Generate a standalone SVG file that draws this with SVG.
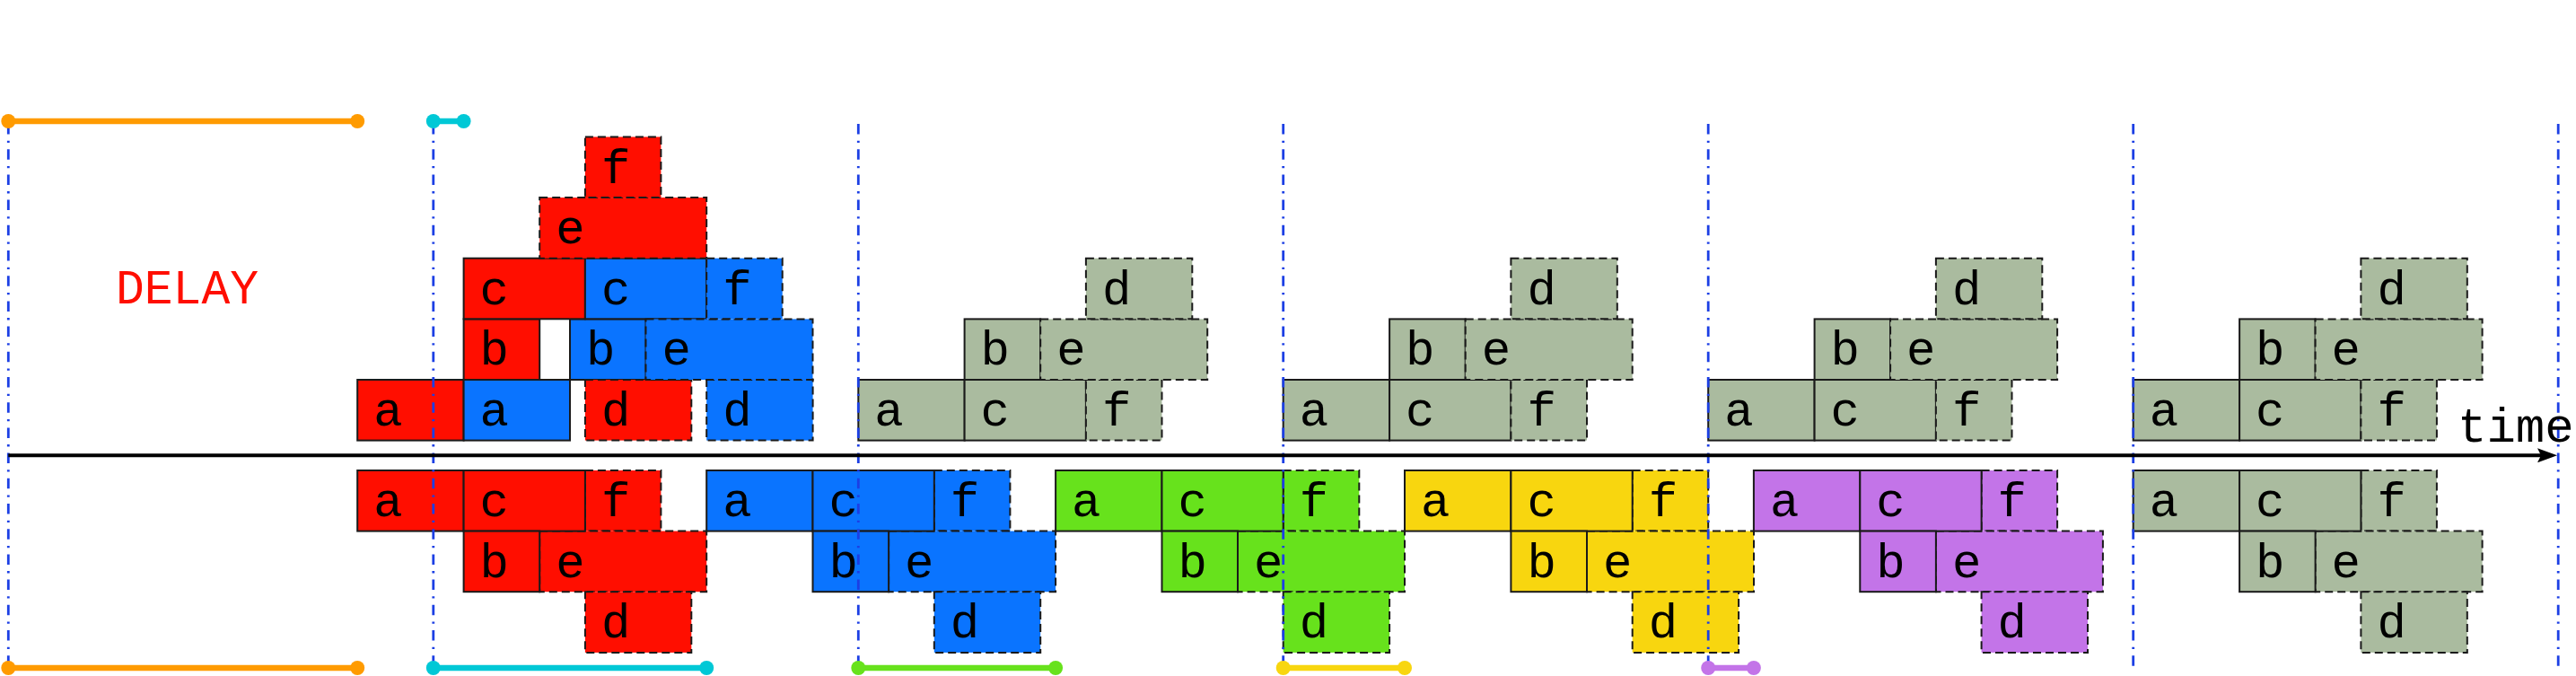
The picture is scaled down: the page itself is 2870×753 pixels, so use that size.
<svg xmlns="http://www.w3.org/2000/svg" width="2870" height="753" viewBox="0 0 2870 753">
<style>
.s{stroke:#1a1a1a;stroke-width:2}
.d{stroke:#1a1a1a;stroke-width:2;stroke-dasharray:9 5}
.r{fill:#ff0e00}.bl{fill:#0a74ff}.g{fill:#67e21c}.y{fill:#f8d60f}.p{fill:#c374e8}.gr{fill:#aabb9f}
.t{font-family:"Liberation Mono","DejaVu Sans Mono",monospace;font-size:54px;fill:#000}
.vl{stroke:#1c3fe4;stroke-width:2.8;stroke-dasharray:11.5 7.2 2.3 7.2;fill:none}
.bar{stroke-width:6.5;fill:none}
.or{stroke:#ff9b00}.cy{stroke:#00c8d6}.gb{stroke:#67e21c}.yb{stroke:#f8d60f}.pb{stroke:#c374e8}
.dor{fill:#ff9b00}.dcy{fill:#00c8d6}.dg{fill:#67e21c}.dy{fill:#f8d60f}.dp{fill:#c374e8}
</style>
<defs>
<marker id="arr" viewBox="0 0 22 16" markerWidth="22" markerHeight="16" refX="11" refY="8" orient="auto" markerUnits="userSpaceOnUse">
<path d="M0,0 L22,8 L0,16 L4,8 Z" fill="#000"/>
</marker>
</defs>
<rect width="2870" height="753" fill="#fff"/>

<text id="delay" x="129" y="338" style="font-family:'Liberation Mono','DejaVu Sans Mono',monospace;font-size:53px;fill:#ff0e00">DELAY</text>

<!-- top: red/blue -->
<g id="top-red-a"><rect class="r s" x="398.2" y="423" width="118.4" height="67.6"/><text class="t" x="416.2" y="474">a</text></g>
<g id="top-blue-a"><rect class="bl s" x="516.6" y="423" width="118.4" height="67.6"/><text class="t" x="534.6" y="474">a</text></g>
<g id="top-red-b"><rect class="r s" x="516.6" y="355.4" width="84.6" height="67.6"/><text class="t" x="534.6" y="406.4">b</text></g>
<g id="top-blue-b"><rect class="bl s" x="635" y="355.4" width="84.5" height="67.6"/><text class="t" x="653" y="406.4">b</text></g>
<g id="top-red-c"><rect class="r s" x="516.6" y="287.7" width="135.3" height="67.6"/><text class="t" x="534.6" y="338.7">c</text></g>
<g id="top-blue-c"><rect class="bl s" x="651.9" y="287.7" width="135.3" height="67.6"/><text class="t" x="669.9" y="338.7">c</text></g>
<g id="top-red-e"><rect class="r d" x="601.2" y="220.1" width="186" height="67.6"/><text class="t" x="619.2" y="271.1">e</text></g>
<g id="top-red-f"><rect class="r d" x="651.9" y="152.5" width="84.5" height="67.6"/><text class="t" x="669.9" y="203.5">f</text></g>
<g id="top-red-d"><rect class="r d" x="651.9" y="423" width="118.4" height="67.6"/><text class="t" x="669.9" y="474">d</text></g>
<g id="top-blue-d"><rect class="bl d" x="787.2" y="423" width="118.4" height="67.6"/><text class="t" x="805.2" y="474">d</text></g>
<g id="top-blue-e"><rect class="bl d" x="719.5" y="355.4" width="186" height="67.6"/><text class="t" x="737.5" y="406.4">e</text></g>
<g id="top-blue-f"><rect class="bl d" x="787.2" y="287.7" width="84.5" height="67.6"/><text class="t" x="805.2" y="338.7">f</text></g>

<!-- top gray blocks -->
<g id="top-gray1-a"><rect class="gr s" x="956.3" y="423" width="118.4" height="67.6"/><text class="t" x="974.3" y="474">a</text></g>
<g id="top-gray1-c"><rect class="gr s" x="1074.6" y="423" width="135.3" height="67.6"/><text class="t" x="1092.6" y="474">c</text></g>
<g id="top-gray1-b"><rect class="gr s" x="1074.6" y="355.4" width="84.6" height="67.6"/><text class="t" x="1092.6" y="406.4">b</text></g>
<g id="top-gray1-f"><rect class="gr d" x="1209.9" y="423" width="84.6" height="67.6"/><text class="t" x="1227.9" y="474">f</text></g>
<g id="top-gray1-e"><rect class="gr d" x="1159.2" y="355.4" width="186" height="67.6"/><text class="t" x="1177.2" y="406.4">e</text></g>
<g id="top-gray1-d"><rect class="gr d" x="1209.9" y="287.7" width="118.4" height="67.6"/><text class="t" x="1227.9" y="338.7">d</text></g>

<g id="top-gray2-a"><rect class="gr s" x="1429.7" y="423" width="118.4" height="67.6"/><text class="t" x="1447.7" y="474">a</text></g>
<g id="top-gray2-c"><rect class="gr s" x="1548.1" y="423" width="135.3" height="67.6"/><text class="t" x="1566.1" y="474">c</text></g>
<g id="top-gray2-b"><rect class="gr s" x="1548.1" y="355.4" width="84.6" height="67.6"/><text class="t" x="1566.1" y="406.4">b</text></g>
<g id="top-gray2-f"><rect class="gr d" x="1683.4" y="423" width="84.6" height="67.6"/><text class="t" x="1701.4" y="474">f</text></g>
<g id="top-gray2-e"><rect class="gr d" x="1632.7" y="355.4" width="186" height="67.6"/><text class="t" x="1650.7" y="406.4">e</text></g>
<g id="top-gray2-d"><rect class="gr d" x="1683.4" y="287.7" width="118.4" height="67.6"/><text class="t" x="1701.4" y="338.7">d</text></g>

<g id="top-gray3-a"><rect class="gr s" x="1903.2" y="423" width="118.4" height="67.6"/><text class="t" x="1921.2" y="474">a</text></g>
<g id="top-gray3-c"><rect class="gr s" x="2021.6" y="423" width="135.3" height="67.6"/><text class="t" x="2039.6" y="474">c</text></g>
<g id="top-gray3-b"><rect class="gr s" x="2021.6" y="355.4" width="84.5" height="67.6"/><text class="t" x="2039.6" y="406.4">b</text></g>
<g id="top-gray3-f"><rect class="gr d" x="2156.9" y="423" width="84.6" height="67.6"/><text class="t" x="2174.9" y="474">f</text></g>
<g id="top-gray3-e"><rect class="gr d" x="2106.1" y="355.4" width="186" height="67.6"/><text class="t" x="2124.1" y="406.4">e</text></g>
<g id="top-gray3-d"><rect class="gr d" x="2156.9" y="287.7" width="118.4" height="67.6"/><text class="t" x="2174.9" y="338.7">d</text></g>

<g id="top-gray4-a"><rect class="gr s" x="2376.7" y="423" width="118.4" height="67.6"/><text class="t" x="2394.7" y="474">a</text></g>
<g id="top-gray4-c"><rect class="gr s" x="2495.1" y="423" width="135.3" height="67.6"/><text class="t" x="2513.1" y="474">c</text></g>
<g id="top-gray4-b"><rect class="gr s" x="2495.1" y="355.4" width="84.5" height="67.6"/><text class="t" x="2513.1" y="406.4">b</text></g>
<g id="top-gray4-f"><rect class="gr d" x="2630.4" y="423" width="84.5" height="67.6"/><text class="t" x="2648.4" y="474">f</text></g>
<g id="top-gray4-e"><rect class="gr d" x="2579.6" y="355.4" width="186" height="67.6"/><text class="t" x="2597.6" y="406.4">e</text></g>
<g id="top-gray4-d"><rect class="gr d" x="2630.4" y="287.7" width="118.4" height="67.6"/><text class="t" x="2648.4" y="338.7">d</text></g>

<!-- bottom blocks -->
<g id="low-red-f"><rect class="r d" x="651.9" y="524" width="84.5" height="67.6"/><text class="t" x="669.9" y="575">f</text></g>
<g id="low-red-e"><rect class="r d" x="601.2" y="591.6" width="186" height="67.6"/><text class="t" x="619.2" y="642.6">e</text></g>
<g id="low-red-d"><rect class="r d" x="651.9" y="659.3" width="118.4" height="67.6"/><text class="t" x="669.9" y="710.3">d</text></g>
<g id="low-red-a"><rect class="r s" x="398.2" y="524" width="118.4" height="67.6"/><text class="t" x="416.2" y="575">a</text></g>
<g id="low-red-c"><rect class="r s" x="516.6" y="524" width="135.3" height="67.6"/><text class="t" x="534.6" y="575">c</text></g>
<g id="low-red-b"><rect class="r s" x="516.6" y="591.6" width="84.6" height="67.6"/><text class="t" x="534.6" y="642.6">b</text></g>

<g id="low-blue-f"><rect class="bl d" x="1040.8" y="524" width="84.6" height="67.6"/><text class="t" x="1058.8" y="575">f</text></g>
<g id="low-blue-e"><rect class="bl d" x="990.1" y="591.6" width="186" height="67.6"/><text class="t" x="1008.1" y="642.6">e</text></g>
<g id="low-blue-d"><rect class="bl d" x="1040.8" y="659.3" width="118.4" height="67.6"/><text class="t" x="1058.8" y="710.3">d</text></g>
<g id="low-blue-a"><rect class="bl s" x="787.2" y="524" width="118.3" height="67.6"/><text class="t" x="805.2" y="575">a</text></g>
<g id="low-blue-c"><rect class="bl s" x="905.5" y="524" width="135.3" height="67.6"/><text class="t" x="923.5" y="575">c</text></g>
<g id="low-blue-b"><rect class="bl s" x="905.5" y="591.6" width="84.6" height="67.6"/><text class="t" x="923.5" y="642.6">b</text></g>

<g id="low-green-f"><rect class="g d" x="1429.7" y="524" width="84.6" height="67.6"/><text class="t" x="1447.7" y="575">f</text></g>
<g id="low-green-e"><rect class="g d" x="1379" y="591.6" width="186" height="67.6"/><text class="t" x="1397" y="642.6">e</text></g>
<g id="low-green-d"><rect class="g d" x="1429.7" y="659.3" width="118.4" height="67.6"/><text class="t" x="1447.7" y="710.3">d</text></g>
<g id="low-green-a"><rect class="g s" x="1176.1" y="524" width="118.4" height="67.6"/><text class="t" x="1194.1" y="575">a</text></g>
<g id="low-green-c"><rect class="g s" x="1294.5" y="524" width="135.2" height="67.6"/><text class="t" x="1312.5" y="575">c</text></g>
<g id="low-green-b"><rect class="g s" x="1294.5" y="591.6" width="84.5" height="67.6"/><text class="t" x="1312.5" y="642.6">b</text></g>

<g id="low-yellow-f"><rect class="y d" x="1818.7" y="524" width="84.5" height="67.6"/><text class="t" x="1836.7" y="575">f</text></g>
<g id="low-yellow-e"><rect class="y d" x="1768" y="591.6" width="186" height="67.6"/><text class="t" x="1786" y="642.6">e</text></g>
<g id="low-yellow-d"><rect class="y d" x="1818.7" y="659.3" width="118.4" height="67.6"/><text class="t" x="1836.7" y="710.3">d</text></g>
<g id="low-yellow-a"><rect class="y s" x="1565" y="524" width="118.4" height="67.6"/><text class="t" x="1583" y="575">a</text></g>
<g id="low-yellow-c"><rect class="y s" x="1683.4" y="524" width="135.3" height="67.6"/><text class="t" x="1701.4" y="575">c</text></g>
<g id="low-yellow-b"><rect class="y s" x="1683.4" y="591.6" width="84.6" height="67.6"/><text class="t" x="1701.4" y="642.6">b</text></g>

<g id="low-purple-f"><rect class="p d" x="2207.6" y="524" width="84.5" height="67.6"/><text class="t" x="2225.6" y="575">f</text></g>
<g id="low-purple-e"><rect class="p d" x="2156.9" y="591.6" width="186" height="67.6"/><text class="t" x="2174.9" y="642.6">e</text></g>
<g id="low-purple-d"><rect class="p d" x="2207.6" y="659.3" width="118.4" height="67.6"/><text class="t" x="2225.6" y="710.3">d</text></g>
<g id="low-purple-a"><rect class="p s" x="1953.9" y="524" width="118.4" height="67.6"/><text class="t" x="1971.9" y="575">a</text></g>
<g id="low-purple-c"><rect class="p s" x="2072.3" y="524" width="135.3" height="67.6"/><text class="t" x="2090.3" y="575">c</text></g>
<g id="low-purple-b"><rect class="p s" x="2072.3" y="591.6" width="84.6" height="67.6"/><text class="t" x="2090.3" y="642.6">b</text></g>

<g id="low-gray-f"><rect class="gr d" x="2630.4" y="524" width="84.5" height="67.6"/><text class="t" x="2648.4" y="575">f</text></g>
<g id="low-gray-e"><rect class="gr d" x="2579.6" y="591.6" width="186" height="67.6"/><text class="t" x="2597.6" y="642.6">e</text></g>
<g id="low-gray-d"><rect class="gr d" x="2630.4" y="659.3" width="118.4" height="67.6"/><text class="t" x="2648.4" y="710.3">d</text></g>
<g id="low-gray-a"><rect class="gr s" x="2376.7" y="524" width="118.4" height="67.6"/><text class="t" x="2394.7" y="575">a</text></g>
<g id="low-gray-c"><rect class="gr s" x="2495.1" y="524" width="135.3" height="67.6"/><text class="t" x="2513.1" y="575">c</text></g>
<g id="low-gray-b"><rect class="gr s" x="2495.1" y="591.6" width="84.5" height="67.6"/><text class="t" x="2513.1" y="642.6">b</text></g>

<g id="connectors">
<line class="vl" x1="9.3" y1="138" x2="9.3" y2="744"/>
<line class="vl" x1="482.8" y1="138" x2="482.8" y2="744"/>
<line class="vl" x1="956.3" y1="138" x2="956.3" y2="744"/>
<line class="vl" x1="1429.7" y1="138" x2="1429.7" y2="744"/>
<line class="vl" x1="1903.2" y1="138" x2="1903.2" y2="744"/>
<line class="vl" x1="2376.7" y1="138" x2="2376.7" y2="744"/>
<line class="vl" x1="2850.2" y1="138" x2="2850.2" y2="744"/>
<line id="axis" x1="9.3" y1="507.3" x2="2838" y2="507.3" stroke="#000" stroke-width="4" marker-end="url(#arr)"/>
<line class="bar or" x1="9.3" y1="135" x2="398.2" y2="135"/>
<circle class="dor" cx="9.3" cy="135" r="8"/><circle class="dor" cx="398.2" cy="135" r="8"/>
<line class="bar cy" x1="482.8" y1="135" x2="516.6" y2="135"/>
<circle class="dcy" cx="482.8" cy="135" r="8"/><circle class="dcy" cx="516.6" cy="135" r="8"/>
<line class="bar or" x1="9.3" y1="744" x2="398.2" y2="744"/>
<circle class="dor" cx="9.3" cy="744" r="8"/><circle class="dor" cx="398.2" cy="744" r="8"/>
<line class="bar cy" x1="482.8" y1="744" x2="787.2" y2="744"/>
<circle class="dcy" cx="482.8" cy="744" r="8"/><circle class="dcy" cx="787.2" cy="744" r="8"/>
<line class="bar gb" x1="956.3" y1="744" x2="1176.1" y2="744"/>
<circle class="dg" cx="956.3" cy="744" r="8"/><circle class="dg" cx="1176.1" cy="744" r="8"/>
<line class="bar yb" x1="1429.7" y1="744" x2="1565" y2="744"/>
<circle class="dy" cx="1429.7" cy="744" r="8"/><circle class="dy" cx="1565" cy="744" r="8"/>
<line class="bar pb" x1="1903.2" y1="744" x2="1953.9" y2="744"/>
<circle class="dp" cx="1903.2" cy="744" r="8"/><circle class="dp" cx="1953.9" cy="744" r="8"/>
</g>

<text id="time-label" x="2738" y="491.7" style="font-family:'Liberation Mono','DejaVu Sans Mono',monospace;font-size:54px;fill:#000">time</text>
</svg>
